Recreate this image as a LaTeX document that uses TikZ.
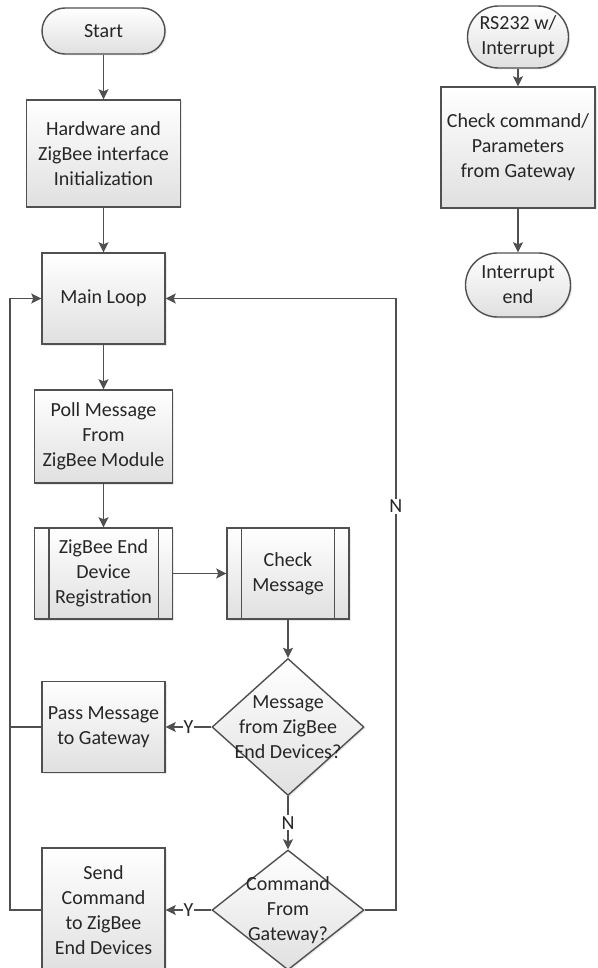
\documentclass[tikz,border=0pt]{standalone}
\usepackage{fontspec}
\setmainfont{Carlito}
\usepackage{tikz}
\usetikzlibrary{arrows.meta}
\usetikzlibrary{%
    shapes.geometric,%
    shadows%
}
\definecolor{linegray}{HTML}{505050}
\definecolor{txtgray}{HTML}{262626}
\definecolor{boxgray}{HTML}{E0E0E0}

\begin{document}
\begin{tikzpicture}[x=1pt,y=-1pt,>={Stealth[length=10pt,width=10pt,inset=2pt]},
    every node/.style={font=\fontsize{20}{25}\selectfont,text=txtgray},
    box/.style={draw=linegray,line width=1.4pt,top color=white,bottom color=boxgray,
      align=center,inner sep=2pt,
      drop shadow={shadow xshift=1.5pt,shadow yshift=-1.5pt,opacity=0.18}},
    terminal/.style={box,rounded corners=#1},
    decision/.style={box,diamond,inner sep=0pt},
    flow/.style={draw=linegray,line width=1.8pt},
    lbl/.style={fill=white,inner sep=1pt}]
    \useasboundingbox (0,0) rectangle (597,968);
    \clip (0,0) rectangle (597,968);
    \node[terminal=23pt,minimum width=123pt,minimum height=46pt] (start) at (103.5,31) {Start};
    \node[box,minimum width=154pt,minimum height=107pt] (hwinit) at (103.5,153.5)
    {Hardware and\\ZigBee interface\\Initialization};
    \node[box,minimum width=123pt,minimum height=91pt] (mainloop) at (103.5,298.5) {Main Loop};
    \node[box,minimum width=138pt,minimum height=93pt] (poll) at (103.5,436.5)
    {Poll Message\\From\\ZigBee Module};
    \node[box,minimum width=138pt,minimum height=91pt] (reg) at (103.5,573.5)
    {ZigBee End\\Device\\Registration};
    \node[box,minimum width=122pt,minimum height=91pt] (check) at (288,573.5) {Check\\Message};
    \node[decision,minimum width=152pt,minimum height=137pt,
      label={[align=center]center:{Message\\from ZigBee\\End Devices?}}] (isdev) at (288,727) {};
    \node[box,minimum width=123pt,minimum height=91pt] (pass) at (103.5,727) {Pass Message\\to Gateway};
    \node[decision,minimum width=152pt,minimum height=120pt,
      label={[align=center]center:{Command\\From\\Gateway?}}] (iscmd) at (288,910) {};
    \node[box,minimum width=123pt,minimum height=124pt] (send) at (103.5,910)
    {Send\\Command\\to ZigBee\\End Devices};
    \node[terminal=31pt,minimum width=101pt,minimum height=62pt] (rs) at (518,37) {RS232 w/\\Interrupt};
    \node[box,minimum width=154pt,minimum height=121pt] (chkcmd) at (518,147.5)
    {Check command/\\Parameters\\from Gateway};
    \node[terminal=32pt,minimum width=105pt,minimum height=64pt] (intend) at (518,285) {Interrupt\\end};
    \foreach \n in {reg,check} {
      \draw[draw=linegray,line width=1.4pt] ([xshift=15pt]\n.north west) -- ([xshift=15pt]\n.south west);
      \draw[draw=linegray,line width=1.4pt] ([xshift=-15pt]\n.north east) -- ([xshift=-15pt]\n.south east);
    }
    \draw[flow,->] (start) -- (hwinit);
    \draw[flow,->] (hwinit) -- (mainloop);
    \draw[flow,->] (mainloop) -- (poll);
    \draw[flow,->] (poll) -- (reg);
    \draw[flow,->] (reg) -- (check);
    \draw[flow,->] (check) -- (isdev);
    \draw[flow,->] (isdev) -- (pass) node[lbl,midway] {Y};
    \draw[flow,->] (isdev) -- (iscmd) node[lbl,midway] {N};
    \draw[flow,->] (iscmd) -- (send) node[lbl,midway] {Y};
    \draw[flow,->] (iscmd.east) -- ++(31,0) |- (mainloop.east) node[lbl,pos=0.33] {N};
    \draw[flow] (pass.west) -- ++(-31,0);
    \draw[flow,->] (send.west) -- ++(-31,0) |- (mainloop.west);
    \draw[flow,->] (rs) -- (chkcmd);
    \draw[flow,->] (chkcmd) -- (intend);
  \end{tikzpicture}
\end{document}
